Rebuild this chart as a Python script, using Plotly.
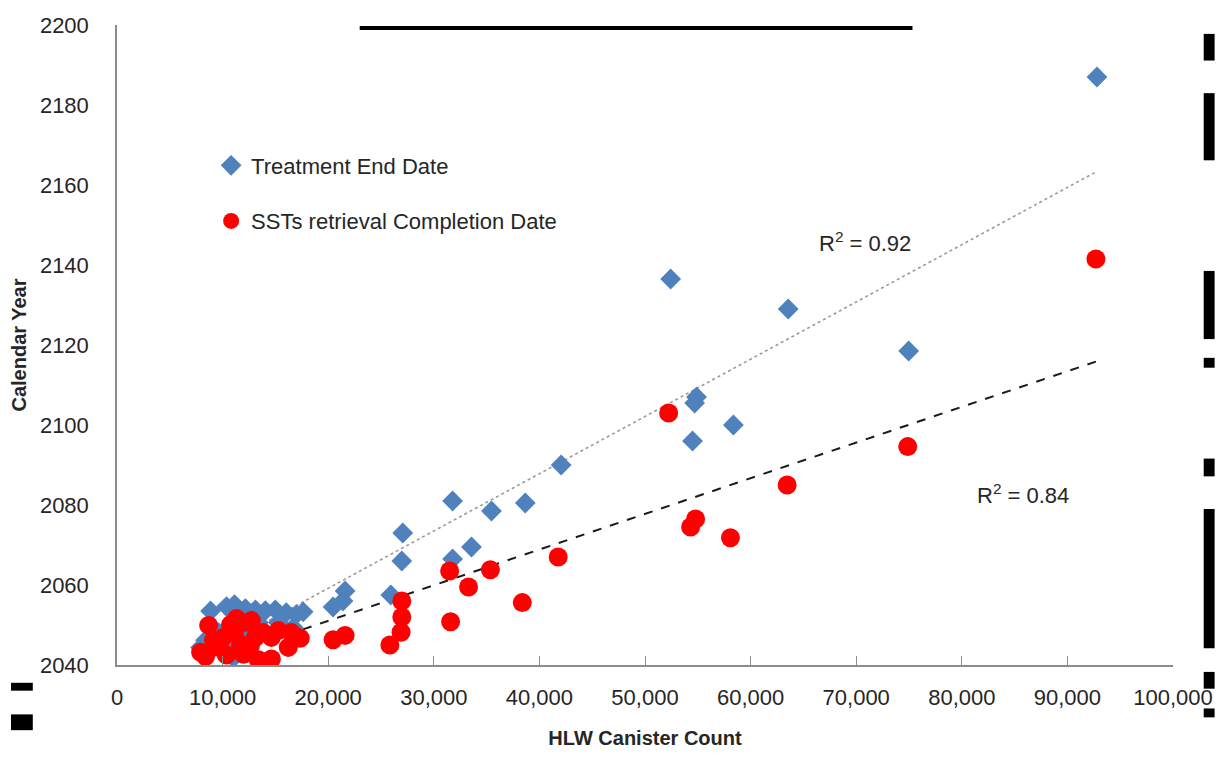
import numpy as np
import plotly.graph_objects as go

# ---------------- data ----------------
treat_x = [92800, 52430, 63560, 74970, 54880, 54700, 54500, 58370, 42060, 38660,
           31780, 35460, 33570, 31780, 27060, 26970, 25930, 21600, 21400, 20460,
           8860, 10370, 11130, 12160, 13110, 14050, 14990, 16030, 16970, 17630,
           7920, 8390, 11030, 9620, 11500, 13390, 15280, 16690, 12450, 10090]
treat_y = [2187, 2136.5, 2129, 2118.5, 2107, 2105.5, 2096, 2100, 2090, 2080.5,
           2081, 2078.5, 2069.5, 2066.5, 2073, 2066, 2057.5, 2058.5, 2056, 2054.5,
           2053.5, 2054.6, 2055.1, 2054.1, 2053.8, 2053.6, 2053.8, 2053.1, 2052.6, 2053.3,
           2044.4, 2046.2, 2041.8, 2048.1, 2048.1, 2050.6, 2050.6, 2049.4, 2045.7, 2044.4]

sst_x = [92700, 52240, 74880, 63460, 54790, 54320, 58090, 41780, 31500, 35360,
         33290, 38380, 31590, 26970, 26970, 26900, 25840, 21600, 20460, 17350,
         8680, 10750, 11320, 12260, 7920, 8390, 9150, 10090, 11690, 10370,
         11980, 12730, 13110, 14620, 16500, 17160, 16220, 13390, 14620, 12640,
         13860, 15280, 9620, 11130]
sst_y = [2141.5, 2103, 2094.6, 2085, 2076.5, 2074.5, 2071.8, 2067, 2063.5, 2063.8,
         2059.5, 2055.6, 2050.8, 2056, 2052, 2048.2, 2045, 2047.4, 2046.3, 2046.7,
         2049.9, 2050.1, 2051.6, 2050.6, 2043.2, 2042.2, 2046.2, 2046.9, 2045.2, 2042.5,
         2042.7, 2051.1, 2046.9, 2046.9, 2048.1, 2046.9, 2044.4, 2041.3, 2041.5, 2044.9,
         2048.1, 2048.6, 2044.4, 2048.1]

x_ticks = [0, 10000, 20000, 30000, 40000, 50000, 60000, 70000, 80000, 90000, 100000]
y_ticks = [2040, 2060, 2080, 2100, 2120, 2140, 2160, 2180, 2200]

r2_labels = ["R<sup>2</sup> = 0.92", "R<sup>2</sup> = 0.84"]

# ---------------- layout helpers ----------------
W, H = 1225, 758
ML, MR, MT, MB = 117, 42, 25, 85
PW, PH = W - ML - MR, H - MT - MB


def px(x):
    return (x - ML) / PW


def py(y):
    return (H - MB - y) / PH


FONT = "Liberation Sans, Arial, sans-serif"
TXT = "#262626"

fig = go.Figure()


def trend(xs, ys):
    xs = np.asarray(xs, float)
    ys = np.asarray(ys, float)
    m, b = np.polyfit(xs, ys, 1)
    xx = np.array([xs.min(), xs.max()])
    return xx, m * xx + b


tx, ty = trend(treat_x, treat_y)
sx, sy = trend(sst_x, sst_y)

fig.add_trace(go.Scatter(x=tx, y=ty, mode="lines", showlegend=False, hoverinfo="skip",
                         line=dict(color="#9a9a9a", width=1.6, dash="dot")))
fig.add_trace(go.Scatter(x=sx, y=sy, mode="lines", showlegend=False, hoverinfo="skip",
                         line=dict(color="#1a1a1a", width=2, dash="dash")))

fig.add_trace(go.Scatter(x=treat_x, y=treat_y, mode="markers", name="Treatment End Date",
                         legendgroup="a",
                         marker=dict(symbol="diamond", size=16, color="#4F81BD",
                                     line=dict(width=0))))
fig.add_trace(go.Scatter(x=sst_x, y=sst_y, mode="markers",
                         name="SSTs retrieval Completion Date", legendgroup="b",
                         marker=dict(symbol="circle", size=19, color="#FF0000",
                                     line=dict(width=0))))

# R^2 labels
fig.add_annotation(x=px(872), y=py(245), xref="paper", yref="paper", text=r2_labels[0],
                   xanchor="center", yanchor="middle",
                   showarrow=False, font=dict(family=FONT, size=22, color=TXT))
fig.add_annotation(x=px(1032), y=py(500), xref="paper", yref="paper", text=r2_labels[1],
                   xanchor="center", yanchor="middle",
                   showarrow=False, font=dict(family=FONT, size=22, color=TXT))

# decorative black redaction marks from the scan
bars = [
    (362, 26, 920, 30),
    (1214, 34, 1225, 61),
    (1214, 94, 1225, 162),
    (1214, 274, 1225, 343),
    (1214, 362, 1225, 372),
    (1214, 464, 1225, 482),
    (1214, 515, 1225, 656),
    (1214, 680, 1225, 697),
    (1214, 717, 1225, 726),
    (10, 691, 32, 699),
    (10, 723, 32, 739),
]
for (x0, y0, x1, y1) in bars:
    fig.add_shape(type="rect", xref="paper", yref="paper",
                  x0=px(x0), x1=px(x1), y0=py(y1), y1=py(y0),
                  fillcolor="black", line=dict(width=0), layer="above")

fig.update_layout(
    width=W, height=H,
    margin=dict(l=ML, r=MR, t=MT, b=MB, pad=0),
    paper_bgcolor="white", plot_bgcolor="white",
    font=dict(family=FONT, size=22, color=TXT),
    legend=dict(x=px(212), y=py(146), xanchor="left", yanchor="top",
                bgcolor="rgba(0,0,0,0)", font=dict(family=FONT, size=22, color=TXT),
                tracegroupgap=24, traceorder="grouped", itemwidth=30),
    xaxis=dict(range=[0, 100000], tickvals=x_ticks,
               ticktext=[f"{v:,}" for v in x_ticks],
               showgrid=False, zeroline=False, showline=True, linecolor="#8c8c8c",
               linewidth=1.5, ticks="inside", ticklen=9, tickcolor="#8c8c8c",
               ticklabelstandoff=12, tickfont=dict(size=22, color=TXT),
               title=dict(text="<b>HLW Canister Count</b>", standoff=22,
                          font=dict(size=20, color=TXT))),
    yaxis=dict(range=[2040, 2200], tickvals=y_ticks,
               showgrid=False, zeroline=False, showline=True, linecolor="#8c8c8c",
               linewidth=1.5, ticks="", ticklabelstandoff=22,
               tickfont=dict(size=22, color=TXT),
               title=dict(text="<b>Calendar Year</b>", standoff=8,
                          font=dict(size=20, color=TXT))),
)

fig.write_html(
    "out.html",
    config={"displayModeBar": False},
    post_script=("document.documentElement.style.overflow='hidden';"
                 "document.body.style.overflow='hidden';"
                 "document.body.style.margin='0';document.body.style.padding='0';"),
)
